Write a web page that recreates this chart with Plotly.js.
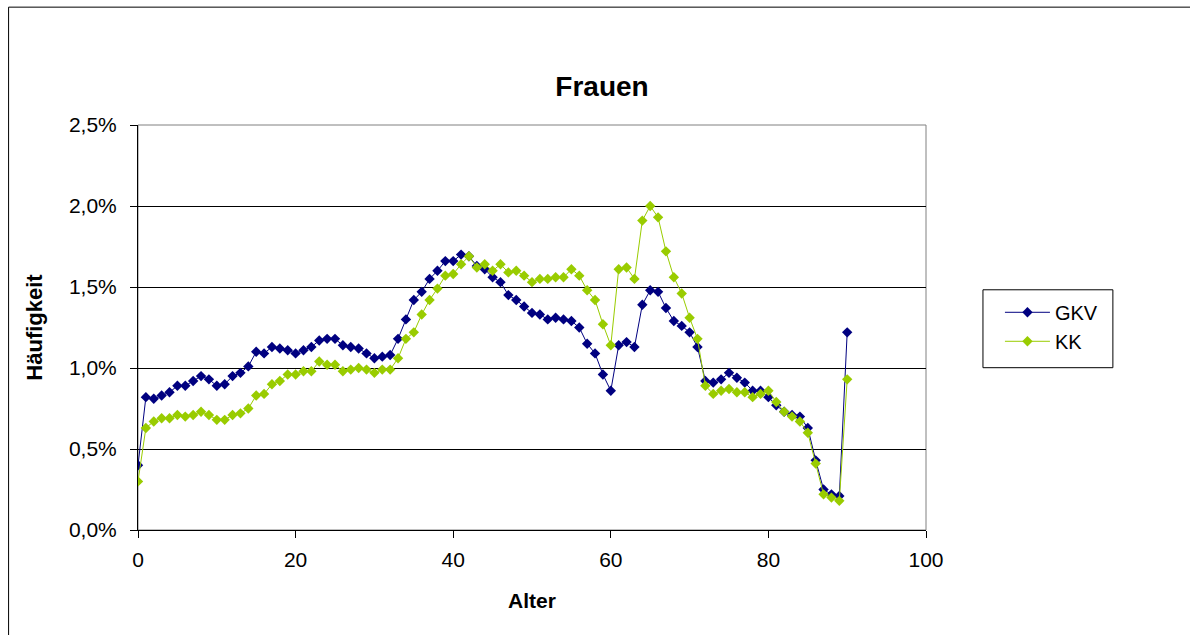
<!DOCTYPE html>
<html>
<head>
<meta charset="utf-8">
<script src="https://cdn.plot.ly/plotly-3.0.1.min.js"></script>
<style>
  html, body { margin: 0; padding: 0; background: #fff; }
  #chart { width: 1190px; height: 635px; }
</style>
</head>
<body>
<div id="chart"></div>
<script>
// Alter 0..90
const ages = [];
for (let a = 0; a <= 90; a++) ages.push(a);

// Häufigkeit (in %) – GKV
const gkv = [
  0.40, 0.82, 0.81, 0.83, 0.85, 0.89, 0.89, 0.92, 0.95, 0.93,
  0.89, 0.90, 0.95, 0.97, 1.01, 1.10, 1.09, 1.13, 1.12, 1.11,
  1.09, 1.11, 1.13, 1.17, 1.18, 1.18, 1.14, 1.13, 1.12, 1.09,
  1.06, 1.07, 1.08, 1.18, 1.30, 1.42, 1.47, 1.55, 1.60, 1.66,
  1.66, 1.70, 1.69, 1.63, 1.61, 1.56, 1.53, 1.45, 1.42, 1.38,
  1.34, 1.33, 1.30, 1.31, 1.30, 1.29, 1.25, 1.15, 1.09, 0.96,
  0.86, 1.14, 1.16, 1.13, 1.39, 1.48, 1.47, 1.37, 1.29, 1.26,
  1.22, 1.13, 0.92, 0.91, 0.93, 0.97, 0.94, 0.91, 0.86, 0.86,
  0.82, 0.77, 0.73, 0.71, 0.70, 0.63, 0.43, 0.25, 0.22, 0.21,
  1.22
];

// Häufigkeit (in %) – KK
const kk = [
  0.30, 0.63, 0.67, 0.69, 0.69, 0.71, 0.70, 0.71, 0.73, 0.71,
  0.68, 0.68, 0.71, 0.72, 0.75, 0.83, 0.84, 0.90, 0.92, 0.96,
  0.96, 0.98, 0.98, 1.04, 1.02, 1.02, 0.98, 0.99, 1.00, 0.99,
  0.97, 0.99, 0.99, 1.06, 1.18, 1.22, 1.33, 1.42, 1.49, 1.57,
  1.58, 1.64, 1.69, 1.62, 1.64, 1.60, 1.64, 1.59, 1.60, 1.57,
  1.53, 1.55, 1.55, 1.56, 1.56, 1.61, 1.57, 1.48, 1.42, 1.27,
  1.14, 1.61, 1.62, 1.55, 1.91, 2.00, 1.93, 1.72, 1.56, 1.46,
  1.31, 1.18, 0.89, 0.84, 0.86, 0.87, 0.85, 0.85, 0.82, 0.84,
  0.86, 0.79, 0.73, 0.70, 0.67, 0.60, 0.41, 0.22, 0.20, 0.18,
  0.93
];

const yTickVals = [0, 0.5, 1.0, 1.5, 2.0, 2.5];
const yTickText = ["0,0%", "0,5%", "1,0%", "1,5%", "2,0%", "2,5%"];
const xTickVals = [0, 20, 40, 60, 80, 100];

const font = "Liberation Sans, Arial, sans-serif";

const traces = [
  {
    x: ages, y: gkv, name: "GKV", type: "scatter", mode: "lines+markers",
    legendgroup: "g1",
    line: { color: "#000080", width: 1 },
    marker: { symbol: "diamond", size: 8, color: "#000080" }
  },
  {
    x: ages, y: kk, name: "KK", type: "scatter", mode: "lines+markers",
    legendgroup: "g2",
    line: { color: "#99CC00", width: 1 },
    marker: { symbol: "diamond", size: 8, color: "#99CC00" }
  }
];

// plot area in pixels
const L = 137.5, R = 926, T = 125, B = 530.5;
const W = R - L, H = B - T;
const px = v => (v - L) / W;
const py = v => (B - v) / H;

const layout = {
  width: 1190, height: 635,
  margin: { l: L, r: 1190 - R, t: T, b: 635 - B },
  paper_bgcolor: "#ffffff",
  plot_bgcolor: "#ffffff",
  font: { family: font, size: 20, color: "#000" },
  showlegend: true,
  title: {
    text: "<b>Frauen</b>",
    font: { family: font, size: 28, color: "#000" },
    xref: "container", x: 602 / 1190, xanchor: "center",
    yref: "container", y: 1 - 86 / 635, yanchor: "middle"
  },
  xaxis: {
    range: [0, 100],
    tickvals: xTickVals,
    ticks: "outside", ticklen: 7, tickcolor: "#000",
    ticklabelstandoff: 4,
    showgrid: false, zeroline: false,
    showline: true, linecolor: "#000", linewidth: 1,
    tickfont: { family: font, size: 21 },
    title: { text: "<b>Alter</b>", font: { family: font, size: 21 }, standoff: 23 }
  },
  yaxis: {
    range: [0, 2.5],
    tickvals: yTickVals, ticktext: yTickText,
    ticks: "outside", ticklen: 7, tickcolor: "#000",
    ticklabelstandoff: 9,
    showgrid: true, gridcolor: "#000", gridwidth: 1,
    zeroline: false,
    showline: true, linecolor: "#000", linewidth: 1,
    tickfont: { family: font, size: 21 },
    title: { text: "<b>Häufigkeit</b>", font: { family: font, size: 22 }, standoff: 20 }
  },
  legend: {
    x: px(1000), xanchor: "left",
    y: py(293), yanchor: "top",
    borderwidth: 0,
    bgcolor: "rgba(0,0,0,0)",
    font: { family: font, size: 20 },
    itemwidth: 45,
    tracegroupgap: 0
  },
  shapes: [
    { type: "rect", xref: "paper", yref: "paper", x0: 0, x1: 1, y0: 0, y1: 1,
      line: { color: "#808080", width: 1 }, layer: "below" },
    { type: "rect", xref: "paper", yref: "paper", x0: px(983), x1: px(1113), y0: py(368), y1: py(290),
      line: { color: "#000", width: 1 }, layer: "below" },
    { type: "rect", xref: "paper", yref: "paper", x0: px(8), x1: px(1300), y0: py(700), y1: py(7),
      line: { color: "#000", width: 1 }, layer: "below" }
  ]
};

Plotly.newPlot("chart", traces, layout, { displayModeBar: false, staticPlot: true });
</script>
</body>
</html>
